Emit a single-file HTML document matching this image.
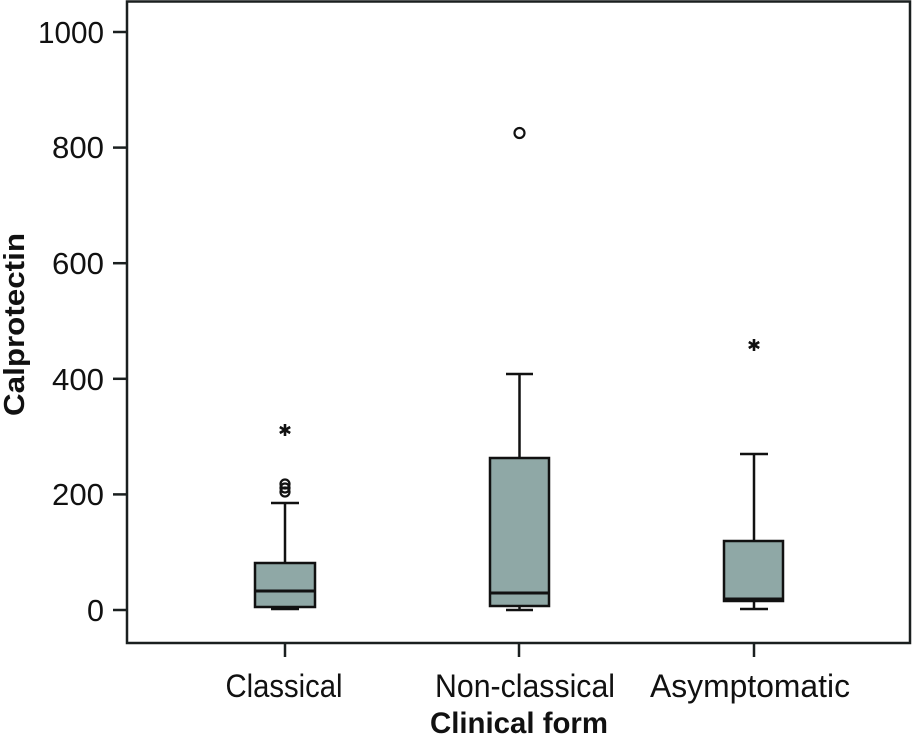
<!DOCTYPE html>
<html><head><meta charset="utf-8"><style>
html,body{margin:0;padding:0;background:#fff;}
svg{display:block;}
text{font-family:"Liberation Sans",sans-serif;fill:#111;}
</style></head><body>
<svg width="913" height="735" viewBox="0 0 913 735" xmlns="http://www.w3.org/2000/svg">
<rect x="0" y="0" width="913" height="735" fill="#fff"/>
<!-- frame -->
<rect x="127" y="1.5" width="783" height="641.5" fill="none" stroke="#1a1f1f" stroke-width="2.5"/>
<!-- y ticks -->
<g stroke="#1a1f1f" stroke-width="2.5">
<line x1="113" y1="610" x2="127" y2="610"/>
<line x1="113" y1="494.4" x2="127" y2="494.4"/>
<line x1="113" y1="378.8" x2="127" y2="378.8"/>
<line x1="113" y1="263.2" x2="127" y2="263.2"/>
<line x1="113" y1="147.6" x2="127" y2="147.6"/>
<line x1="113" y1="32" x2="127" y2="32"/>
<line x1="285" y1="643" x2="285" y2="657"/>
<line x1="519" y1="643" x2="519" y2="657"/>
<line x1="754" y1="643" x2="754" y2="657"/>
</g>
<g font-size="31" text-anchor="end">
<text x="104" y="621" textLength="17" lengthAdjust="spacingAndGlyphs">0</text>
<text x="104" y="505" textLength="52" lengthAdjust="spacingAndGlyphs">200</text>
<text x="104" y="390" textLength="52" lengthAdjust="spacingAndGlyphs">400</text>
<text x="104" y="274" textLength="52" lengthAdjust="spacingAndGlyphs">600</text>
<text x="104" y="158" textLength="52" lengthAdjust="spacingAndGlyphs">800</text>
<text x="104" y="43" textLength="66" lengthAdjust="spacingAndGlyphs">1000</text>
</g>
<g font-size="32" text-anchor="middle">
<text x="284" y="697" textLength="117" lengthAdjust="spacingAndGlyphs">Classical</text>
<text x="525" y="697" textLength="180" lengthAdjust="spacingAndGlyphs">Non-classical</text>
<text x="750" y="697" textLength="200" lengthAdjust="spacingAndGlyphs">Asymptomatic</text>
</g>
<text x="519" y="733" font-size="30" font-weight="bold" text-anchor="middle" textLength="178" lengthAdjust="spacingAndGlyphs">Clinical form</text>
<text transform="translate(24,324.5) rotate(-90)" font-size="29" font-weight="bold" text-anchor="middle" textLength="183" lengthAdjust="spacingAndGlyphs">Calprotectin</text>

<g stroke="#111" stroke-width="2.5" fill="#8fa8a6">
<!-- Classical -->
<line x1="285" y1="503" x2="285" y2="563"/>
<line x1="271" y1="503" x2="299" y2="503"/>
<line x1="285" y1="607" x2="285" y2="609"/>
<line x1="271" y1="609" x2="299" y2="609"/>
<rect x="255" y="563" width="60" height="44"/>
<line x1="255" y1="591" x2="315" y2="591" stroke-width="3"/>
<!-- Non-classical -->
<line x1="519.5" y1="374" x2="519.5" y2="458"/>
<line x1="506" y1="374" x2="533" y2="374"/>
<line x1="519.5" y1="606" x2="519.5" y2="610"/>
<line x1="506" y1="610" x2="533" y2="610"/>
<rect x="490" y="458" width="59" height="148"/>
<line x1="490" y1="593" x2="549" y2="593" stroke-width="3"/>
<!-- Asymptomatic -->
<line x1="754" y1="454" x2="754" y2="541"/>
<line x1="740" y1="454" x2="768" y2="454"/>
<line x1="754" y1="601" x2="754" y2="609"/>
<line x1="740" y1="609" x2="768" y2="609"/>
<rect x="724" y="541" width="59" height="60"/>
<line x1="724" y1="599" x2="783" y2="599" stroke-width="3"/>
</g>
<!-- outliers -->
<g fill="none" stroke="#111" stroke-width="2.2">
<circle cx="519.5" cy="133" r="5"/>
<circle cx="285" cy="484" r="4.5"/>
<circle cx="285" cy="488" r="4.5"/>
<circle cx="285" cy="492" r="4.5"/>
</g>
<!-- asterisks -->
<g stroke="#111" stroke-width="2.6" stroke-linecap="butt">
<g transform="translate(285,430)">
<line x1="0" y1="-6" x2="0" y2="6"/>
<line x1="-5.2" y1="-3" x2="5.2" y2="3"/>
<line x1="-5.2" y1="3" x2="5.2" y2="-3"/>
</g>
<g transform="translate(754,345)">
<line x1="0" y1="-6" x2="0" y2="6"/>
<line x1="-5.2" y1="-3" x2="5.2" y2="3"/>
<line x1="-5.2" y1="3" x2="5.2" y2="-3"/>
</g>
</g>
</svg>
</body></html>
